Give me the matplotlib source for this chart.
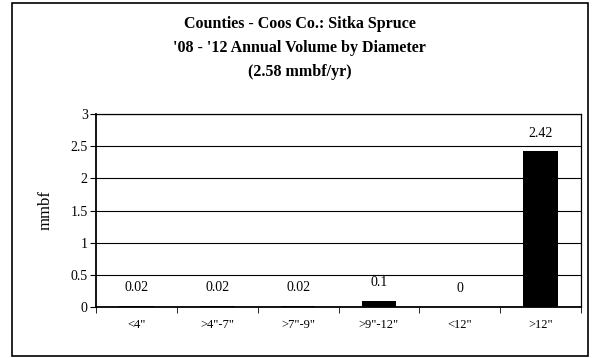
import numpy as np
import matplotlib.pyplot as plt
from matplotlib.patches import Rectangle

categories = ['<4"', '>4"-7"', '>7"-9"', '>9"-12"', '<12"', '>12"']
volumes = [0.02, 0.02, 0.02, 0.1, 0.0, 2.42]
labels = ['0.02', '0.02', '0.02', '0.1', '0', '2.42']

plt.rcParams['font.family'] = ['Liberation Serif', 'DejaVu Serif']

W, H = 599, 358
fig = plt.figure(figsize=(W / 100, H / 100), dpi=100)

# outer chart border
fig.patches.append(Rectangle((12 / W, 1 - 356 / H), 576 / W, 353 / H,
                             transform=fig.transFigure, fill=False,
                             edgecolor='black', linewidth=1.2))

ax = fig.add_axes([96 / W, 1 - 307 / H, (581 - 96) / W, (307 - 114) / H])

x = np.arange(len(categories))
ax.bar(x, volumes, width=0.43, color='black', zorder=3)
for xi, v, lab in zip(x, volumes, labels):
    ax.text(xi, v + 0.28, lab, ha='center', va='center', fontsize=10)

ax.set_xlim(-0.5, len(categories) - 0.5)
ax.set_ylim(0, 3)
ax.set_yticks(np.arange(0, 3.01, 0.5))
ax.set_yticklabels(['0', '0.5', '1', '1.5', '2', '2.5', '3'])
ax.yaxis.grid(True, color='black', linewidth=0.8)
ax.set_axisbelow(True)

ax.set_xticks(x)
ax.set_xticklabels(categories)
ax.set_xticks(np.arange(-0.5, len(categories)), minor=True)
ax.tick_params(axis='x', which='major', length=0, pad=9, labelsize=9)
ax.tick_params(axis='x', which='minor', length=4, direction='out')
ax.tick_params(axis='y', length=4, direction='out', labelsize=10, pad=2)

for s in ax.spines.values():
    s.set_linewidth(0.9)
ax.spines['left'].set_linewidth(1.3)
ax.spines['bottom'].set_linewidth(1.3)

ax.set_ylabel('mmbf', fontsize=12, labelpad=12)

fig.text(0.5, 1 - 24 / H, 'Counties - Coos Co.: Sitka Spruce', ha='center', va='center',
         fontsize=11.5, fontweight='bold')
fig.text(0.5, 1 - 48 / H, "'08 - '12 Annual Volume by Diameter", ha='center', va='center',
         fontsize=11.5, fontweight='bold')
fig.text(0.5, 1 - 72 / H, '(2.58 mmbf/yr)', ha='center', va='center',
         fontsize=11.5, fontweight='bold')

fig.savefig('out.png', dpi=100)
